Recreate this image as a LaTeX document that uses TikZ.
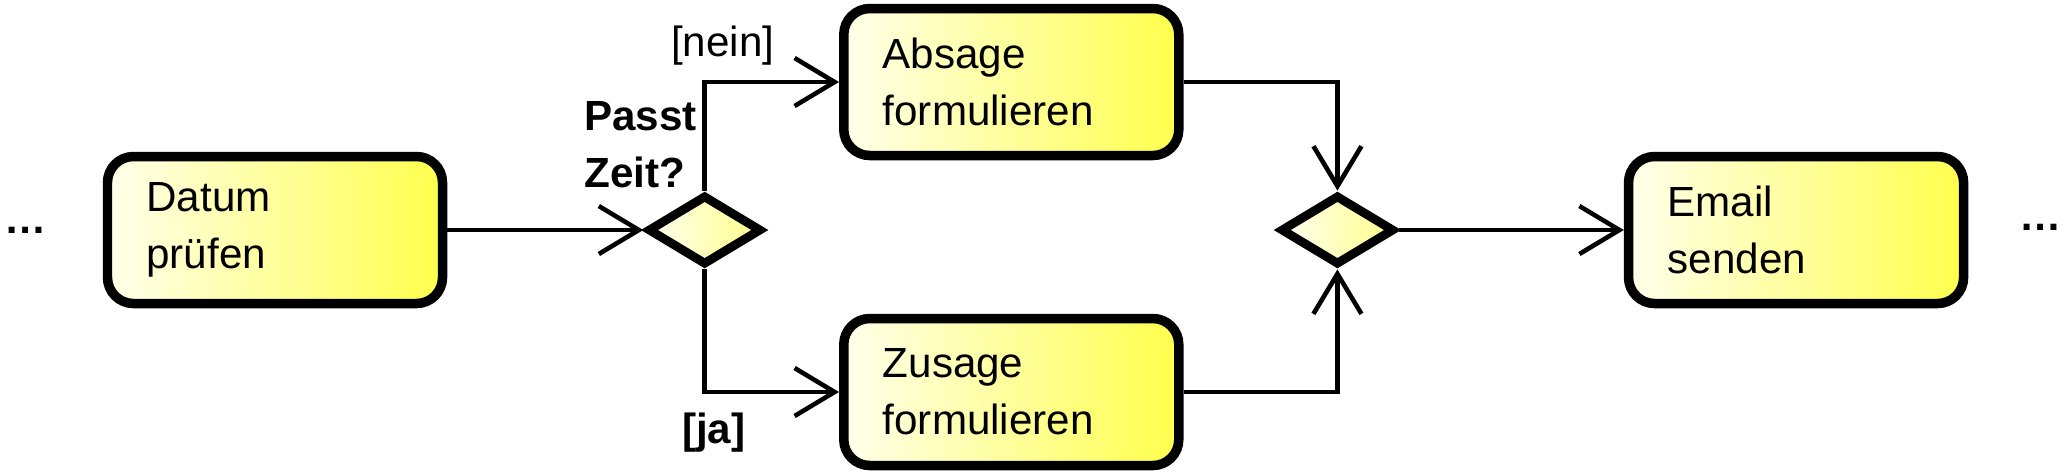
\documentclass[tikz,border=0pt]{standalone}
\usepackage{fontspec}
\setmainfont{Liberation Sans}
\usetikzlibrary{positioning,arrows.meta,shapes.geometric,calc}
\newcommand\actfont{\fontsize{12}{16.2}\selectfont}
\tikzset{
  >={Straight Barb[length=4mm,width=4.8mm]},
  font        = \actfont,
  act/.style={
    draw            = black,
    line width      = 2.7pt,
    left color      = yellow!8,
    right color     = yellow!70,
    rounded corners = 2.6mm,
    minimum width   = 3.35cm,
    minimum height  = 1.47cm,
    text width      = 2.57cm,
    inner xsep      = 3.9mm,
    align           = left},
  gate/.style={
    diamond,
    draw            = black,
    line width      = 2.5pt,
    left color      = yellow!6,
    right color     = yellow!45,
    minimum width   = 1.14cm,
    minimum height  = 0.7cm,
    inner sep       = 0pt},
  guard/.style={
    inner sep = 0pt},
  guardb/.style={
    inner sep = 0pt,
    font      = \actfont\bfseries},
  flow/.style={
    ->,
    line width = 1.3pt}
}

\begin{document}
\begin{tikzpicture}
\useasboundingbox (0,0) rectangle (20.70,-4.75);

\node[act] (datum) at (2.75,-2.30) {Datum\\prüfen};
\node[gate, right = 1.96cm of datum] (fit) {};

\node[act, right = 0.73cm of fit, yshift =  1.48cm] (absage)
      {Absage\\formulieren};
\node[act, right = 0.73cm of fit, yshift = -1.62cm] (zusage)
      {Zusage\\formulieren};

\node[gate, right = 5.10cm of fit] (merge) {};
\node[act, right = 2.25cm of merge] (email) {Email\\senden};

% guards and question
\node[guard, above = 1.25cm of fit.north, xshift = 0.18cm] (nein) {[nein]};
\node[guardb, below = 1.43cm of fit.south, xshift = 0.09cm] (ja) {[ja]};
\node[guardb, align = left, above left = 0.02cm and 0.07cm of fit.north]
      (frage) {Passt\\Zeit?};

% continuation marks
\node[guardb, anchor = base east] (moreleft)
      at ($(datum.west)+(-0.55,-0.03)$) {\dots};
\node[guardb, anchor = base west] (moreright)
      at ($(email.east)+(0.50,0)$) {\dots};

\draw[flow] (datum.east) -- (fit.west);
\draw[flow] (fit.north) |- (absage.west);
\draw[flow] (fit.south) |- (zusage.west);
\draw[flow] (absage.east) -| (merge.north);
\draw[flow] (zusage.east) -| (merge.south);
\draw[flow] (merge.east) -- (email.west);

\end{tikzpicture}
\end{document}
